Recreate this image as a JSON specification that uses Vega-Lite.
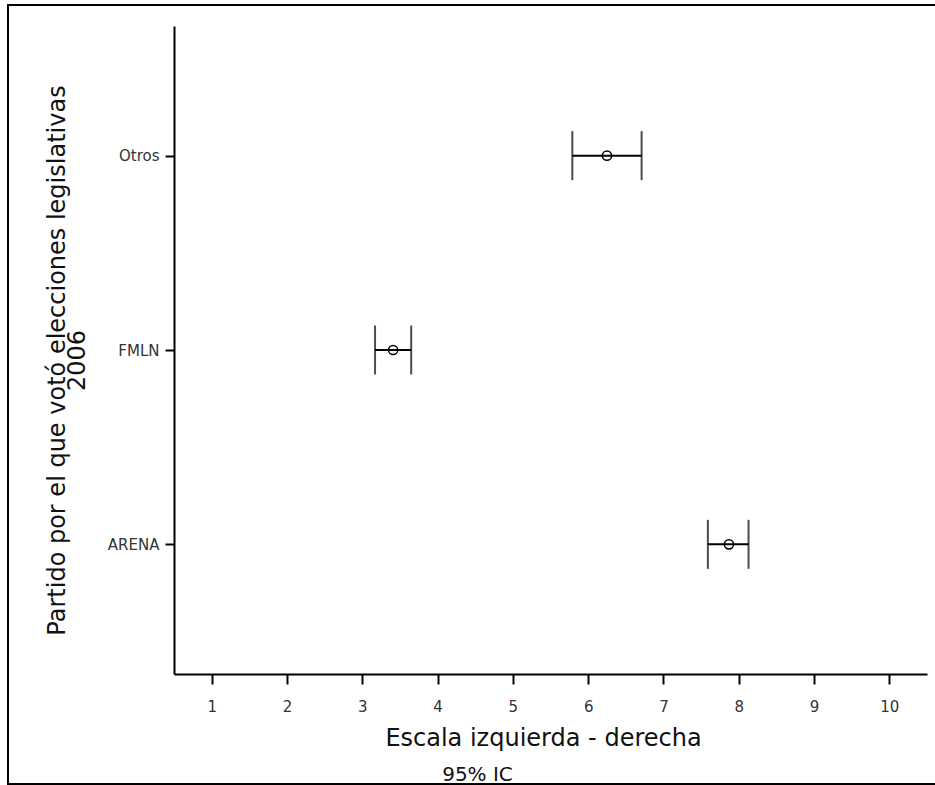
{
  "$schema": "https://vega.github.io/schema/vega-lite/v6.json",
  "width": 753,
  "height": 648,
  "autosize": {"type": "none"},
  "padding": {"left": 174, "top": 26, "right": 8, "bottom": 111},
  "background": "white",
  "title": {
    "text": "95% IC",
    "orient": "bottom",
    "anchor": "middle",
    "dx": -73,
    "offset": -20,
    "fontSize": 20,
    "fontWeight": "normal",
    "font": "DejaVu Sans",
    "color": "#111"
  },
  "data": {
    "values": [
      {"partido": "Otros", "media": 6.25, "lo": 5.79, "hi": 6.71},
      {"partido": "FMLN", "media": 3.41, "lo": 3.17, "hi": 3.65},
      {"partido": "ARENA", "media": 7.87, "lo": 7.59, "hi": 8.13}
    ]
  },
  "layer": [
    {
      "mark": {"type": "rect", "fill": null, "stroke": "black", "strokeWidth": 2, "xOffset": -166, "x2Offset": 20, "yOffset": -21, "y2Offset": 110, "clip": false},
      "encoding": {
        "x": {"value": 0},
        "x2": {"value": "width"},
        "y": {"value": 0},
        "y2": {"value": "height"}
      }
    },
    {
      "mark": {"type": "rule", "color": "black", "strokeWidth": 2},
      "encoding": {
        "y": {
          "field": "partido",
          "type": "nominal",
          "sort": ["Otros", "FMLN", "ARENA"],
          "scale": {"type": "point", "padding": 0.667},
          "axis": {
            "title": ["Partido por el que votó elecciones legislativas", "2006"],
            "titleFontSize": 24,
            "titleFontWeight": "normal",
            "titleLineHeight": 20,
            "titlePadding": 18,
            "titleY": 334,
            "titleColor": "#111",
            "labelFontSize": 15,
            "labelColor": "#333",
            "labelPadding": 6,
            "tickSize": 9,
            "tickWidth": 2,
            "tickColor": "black",
            "domainColor": "black",
            "domainWidth": 2,
            "grid": false
          }
        },
        "x": {
          "field": "lo",
          "type": "quantitative",
          "scale": {"domain": [0.5, 10.5], "nice": false, "zero": false},
          "axis": {
            "title": "Escala izquierda - derecha",
            "values": [1, 2, 3, 4, 5, 6, 7, 8, 9, 10],
            "format": "d",
            "titleFontSize": 24,
            "titleFontWeight": "normal",
            "titleColor": "#111",
            "titlePadding": 12,
            "titleX": 369,
            "labelFontSize": 15,
            "labelColor": "#333",
            "labelPadding": 15,
            "tickSize": 10,
            "tickWidth": 2,
            "tickColor": "black",
            "domainColor": "black",
            "domainWidth": 2,
            "grid": false
          }
        },
        "x2": {"field": "hi"}
      }
    },
    {
      "mark": {"type": "tick", "orient": "vertical", "color": "black", "size": 49, "thickness": 2},
      "encoding": {
        "y": {"field": "partido", "type": "nominal", "sort": ["Otros", "FMLN", "ARENA"]},
        "x": {"field": "lo", "type": "quantitative"}
      }
    },
    {
      "mark": {"type": "tick", "orient": "vertical", "color": "black", "size": 49, "thickness": 2},
      "encoding": {
        "y": {"field": "partido", "type": "nominal", "sort": ["Otros", "FMLN", "ARENA"]},
        "x": {"field": "hi", "type": "quantitative"}
      }
    },
    {
      "mark": {"type": "point", "shape": "circle", "filled": false, "stroke": "black", "strokeWidth": 1.5, "size": 85, "opacity": 1},
      "encoding": {
        "y": {"field": "partido", "type": "nominal", "sort": ["Otros", "FMLN", "ARENA"]},
        "x": {"field": "media", "type": "quantitative"}
      }
    }
  ],
  "config": {
    "font": "DejaVu Sans",
    "view": {"stroke": null}
  }
}
